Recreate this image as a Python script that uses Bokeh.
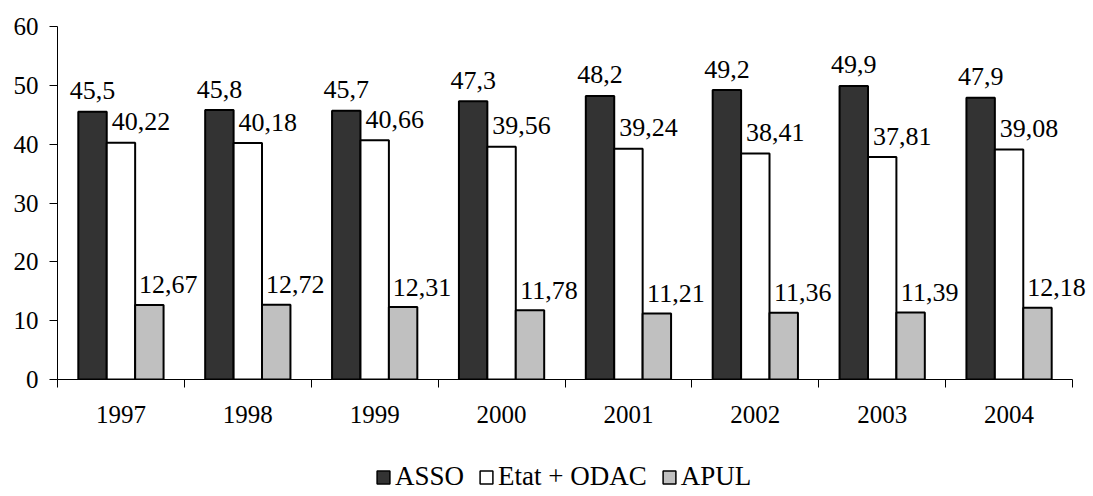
from bokeh.plotting import figure
from bokeh.layouts import column
from bokeh.models import (ColumnDataSource, Range1d, FixedTicker, LinearAxis,
                          Legend, LegendItem)
from bokeh.core.properties import value
from bokeh.transform import dodge
from bokeh.embed import file_html
from bokeh.resources import INLINE

# Data
years = ["1997", "1998", "1999", "2000", "2001", "2002", "2003", "2004"]
asso = [45.5, 45.8, 45.7, 47.3, 48.2, 49.2, 49.9, 47.9]
etat_odac = [40.22, 40.18, 40.66, 39.56, 39.24, 38.41, 37.81, 39.08]
apul = [12.67, 12.72, 12.31, 11.78, 11.21, 11.36, 11.39, 12.18]
series_names = ["ASSO", "Etat + ODAC", "APUL"]
y_ticks = [0, 10, 20, 30, 40, 50, 60]

FONT = "Liberation Serif"
COLORS = ["#333333", "white", "#C0C0C0"]


def fr(v):
    return str(v).replace(".", ",")


n = len(years)
src = ColumnDataSource(dict(
    x=[i + 0.5 for i in range(n)],
    asso=asso, etat=etat_odac, apul=apul,
    asso_lbl=[fr(v) for v in asso],
    etat_lbl=[fr(v) for v in etat_odac],
    apul_lbl=[fr(v) for v in apul],
))

# Frame runs to the right edge so the last labels are not clipped;
# the axis itself stops at the last category boundary.
x_end = n * 1036 / 1015
p = figure(width=1093, height=446, output_backend="svg", toolbar_location=None,
           x_range=Range1d(0, x_end), y_range=Range1d(0, 60),
           x_axis_type=None, y_axis_type=None,
           min_border_left=57, min_border_right=0, min_border_top=26,
           min_border_bottom=67)
p.outline_line_color = None
p.grid.visible = False

bw = 0.224
r_asso = p.vbar(x=dodge("x", -bw, range=p.x_range), top="asso", width=bw, source=src,
                fill_color=COLORS[0], line_color="black", line_width=2)
r_etat = p.vbar(x="x", top="etat", width=bw, source=src,
                fill_color=COLORS[1], line_color="black", line_width=2)
r_apul = p.vbar(x=dodge("x", bw, range=p.x_range), top="apul", width=bw, source=src,
                fill_color=COLORS[2], line_color="black", line_width=2)

# Value labels above the bars
lbl_kw = dict(source=src, text_font=value(FONT), text_font_size="26px",
              text_color="black", text_baseline="alphabetic", text_align="center")
p.text(x=dodge("x", -bw, range=p.x_range), y="asso", text="asso_lbl",
       y_offset=-21, **lbl_kw)
p.text(x="x", y="etat", text="etat_lbl", x_offset=20, y_offset=-21, **lbl_kw)
p.text(x=dodge("x", bw, range=p.x_range), y="apul", text="apul_lbl",
       x_offset=19, y_offset=-20, **lbl_kw)

# Y axis
yax = LinearAxis(ticker=FixedTicker(ticks=y_ticks))
yax.axis_line_color = "black"
yax.major_tick_out = 8
yax.major_tick_in = 0
yax.minor_tick_line_color = None
yax.major_label_text_font = FONT
yax.major_label_text_font_size = "25px"
yax.major_label_text_color = "black"
yax.major_label_standoff = 11
p.add_layout(yax, "left")

# X axis: tick marks on the category boundaries
xax = LinearAxis(ticker=FixedTicker(ticks=list(range(n + 1))), bounds=(0, n))
xax.axis_line_color = "black"
xax.major_tick_out = 8
xax.major_tick_in = 0
xax.minor_tick_line_color = None
xax.major_label_text_alpha = 0
xax.major_label_text_font_size = "2px"
xax.major_label_standoff = 0
p.add_layout(xax, "below")

# Year labels centred in each category
cax = LinearAxis(ticker=FixedTicker(ticks=[i + 0.5 for i in range(n)]), bounds=(0, n))
cax.axis_line_color = None
cax.major_tick_out = 0
cax.major_tick_in = 0
cax.minor_tick_line_color = None
cax.major_label_overrides = {i + 0.5: y for i, y in enumerate(years)}
cax.major_label_text_font = FONT
cax.major_label_text_font_size = "25px"
cax.major_label_text_color = "black"
cax.major_label_standoff = 18
p.add_layout(cax, "below")

# Legend strip underneath the chart
lg = figure(width=1093, height=50, output_backend="svg", toolbar_location=None,
            x_range=Range1d(0, 1), y_range=Range1d(0, 1),
            x_axis_type=None, y_axis_type=None, min_border=0)
lg.outline_line_color = None
lg.grid.visible = False
dummies = [lg.vbar(x=[0], top=[0], width=0, fill_color=c, line_color="black",
                   line_width=1.5) for c in COLORS]
legend = Legend(items=[LegendItem(label=s, renderers=[r])
                       for s, r in zip(series_names, dummies)],
                orientation="horizontal", location=(318, 4))
legend.label_text_font = FONT
legend.label_text_font_size = "27px"
legend.label_text_color = "black"
legend.glyph_width = 16
legend.glyph_height = 16
legend.label_standoff = 4
legend.spacing = 14
legend.border_line_color = None
legend.background_fill_alpha = 0
legend.padding = 0
legend.margin = 0
lg.add_layout(legend, "center")

open("out.html", "w").write(file_html(column(p, lg), INLINE))
